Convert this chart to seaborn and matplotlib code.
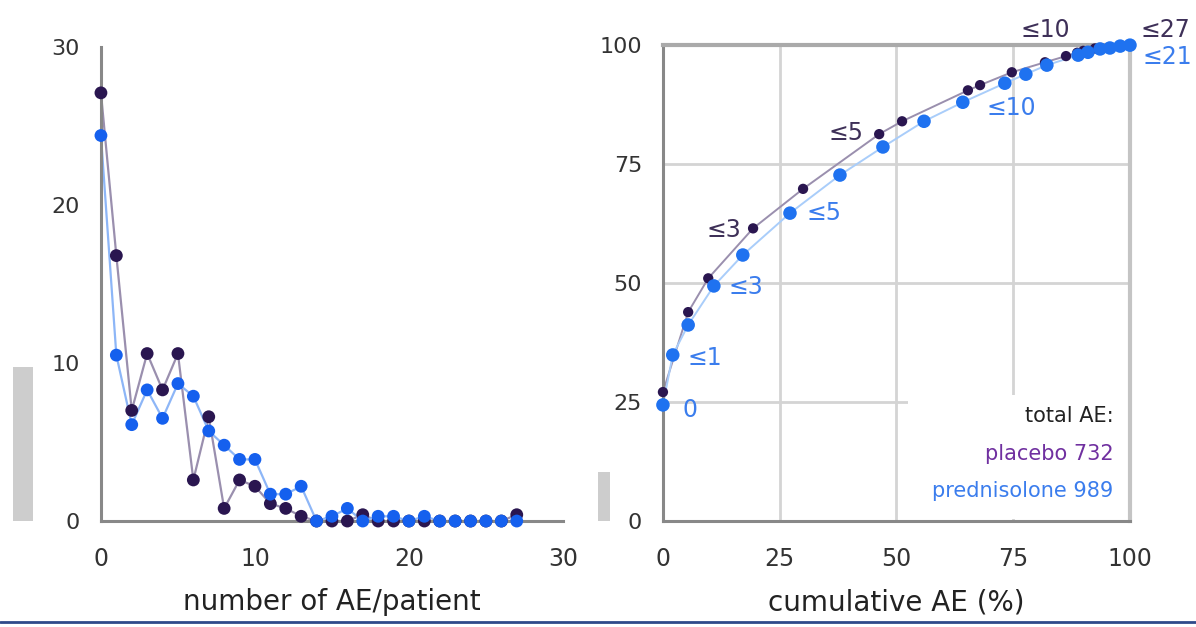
import matplotlib
matplotlib.use("Agg")
import matplotlib.pyplot as plt
import seaborn as sns
import pandas as pd
from matplotlib.patches import Rectangle
from matplotlib.lines import Line2D
from matplotlib.ticker import MultipleLocator

# ---------------- data ----------------
ae_count = list(range(28))
placebo_pct = [27.1, 16.8, 7.0, 10.6, 8.3, 10.6, 2.6, 6.6, 0.8, 2.6, 2.2, 1.1, 0.8, 0.3,
               0, 0, 0, 0.4, 0, 0, 0, 0, 0, 0, 0, 0, 0, 0.4]
pred_pct = [24.4, 10.5, 6.1, 8.3, 6.5, 8.7, 7.9, 5.7, 4.8, 3.9, 3.9, 1.7, 1.7, 2.2,
            0, 0.3, 0.8, 0, 0.3, 0.3, 0, 0.3, 0, 0, 0, 0, 0, 0]

placebo_cum_ae = [0, 5.4, 9.7, 19.3, 30.0, 46.3, 51.2, 65.3, 67.9, 74.7, 81.8, 86.3, 88.7, 90.0, 92.5, 100]
placebo_cum_pat = [27.1, 43.9, 51.0, 61.5, 69.8, 81.3, 84.0, 90.5, 91.6, 94.3, 96.4, 97.7, 98.4, 98.8, 99.3, 100]
pred_cum_ae = [0, 2.1, 5.4, 10.9, 17.1, 27.2, 37.9, 47.1, 55.9, 64.2, 73.2, 77.7, 82.2, 88.9, 91.0, 93.6, 95.7, 97.9, 100]
pred_cum_pat = [24.4, 34.9, 41.2, 49.4, 55.9, 64.7, 72.7, 78.6, 84.0, 88.0, 92.0, 93.9, 95.8, 97.9, 98.5, 99.2, 99.4, 99.8, 100]

placebo_labels = ["≤3", "≤5", "≤10", "≤27"]
placebo_label_x = [13.1, 39.2, 81.8, 107.5]
placebo_label_y = [61.1, 81.5, 103.2, 103.2]
pred_labels = ["0", "≤1", "≤3", "≤5", "≤10", "≤21"]
pred_label_x = [5.8, 9.0, 17.8, 34.5, 74.5, 108.0]
pred_label_y = [23.3, 34.2, 49.2, 64.7, 86.8, 97.5]

total_title = "total AE:"
total_lines = ["placebo 732", "prednisolone 989"]

xlabel_left = "number of AE/patient"
xlabel_right = "cumulative AE (%)"

# ---------------- style ----------------
sns.set_theme(style="white")
plt.rcParams['font.family'] = ['DejaVu Sans']

C_PLA = "#2a1650"
C_PLA_LINE = "#9a8fae"
C_PRE = "#1560ee"
C_PRE_LINE = "#8db6f7"
C_PRE_MARK_R = "#1f72f0"
C_PLA_TXT = "#3e3058"
C_PRE_TXT = "#3b7ded"
SPINE = "#888888"

fig = plt.figure(figsize=(11.96, 6.27), dpi=100)

# ---------------- left panel ----------------
ax1 = fig.add_axes([0.0844, 0.169, 0.3863, 0.756])
df_l = pd.DataFrame({"n": ae_count, "placebo": placebo_pct, "pred": pred_pct})
sns.lineplot(data=df_l, x="n", y="placebo", ax=ax1, color=C_PLA_LINE, lw=1.6, sort=False, zorder=2)
sns.lineplot(data=df_l, x="n", y="pred", ax=ax1, color=C_PRE_LINE, lw=1.6, sort=False, zorder=2)
sns.scatterplot(data=df_l, x="n", y="placebo", ax=ax1, color=C_PLA, s=85, edgecolor="none",
                zorder=3, clip_on=False)
sns.scatterplot(data=df_l, x="n", y="pred", ax=ax1, color=C_PRE, s=85, edgecolor="none",
                zorder=4, clip_on=False)
ax1.set_xlim(0, 30)
ax1.set_ylim(0, 30)
for s in ["top", "right"]:
    ax1.spines[s].set_visible(False)
for s in ["left", "bottom"]:
    ax1.spines[s].set_color(SPINE)
    ax1.spines[s].set_linewidth(2.2)
ax1.xaxis.set_major_locator(MultipleLocator(10))
ax1.xaxis.set_minor_locator(MultipleLocator(5))
ax1.yaxis.set_major_locator(MultipleLocator(10))
ax1.yaxis.set_minor_locator(MultipleLocator(5))
ax1.tick_params(axis="both", which="major", direction="out", length=9, width=1.6, color=SPINE,
                labelcolor="#333333")
ax1.tick_params(axis="both", which="minor", direction="out", length=5, width=1.4, color="#bbbbbb")
ax1.tick_params(axis="x", which="major", pad=10, labelsize=17)
ax1.tick_params(axis="y", which="major", pad=6, labelsize=16)
ax1.set_xlabel(xlabel_left, fontsize=20, color="#222222", labelpad=12)
ax1.set_ylabel("")

# ---------------- right panel ----------------
ax2 = fig.add_axes([0.5543, 0.169, 0.3905, 0.759])
ax2.set_axisbelow(True)
df_p = pd.DataFrame({"ae": placebo_cum_ae, "pat": placebo_cum_pat})
df_r = pd.DataFrame({"ae": pred_cum_ae, "pat": pred_cum_pat})
sns.lineplot(data=df_p, x="ae", y="pat", ax=ax2, color=C_PLA_LINE, lw=1.4, sort=False, zorder=2)
sns.lineplot(data=df_r, x="ae", y="pat", ax=ax2, color="#a9cdfa", lw=1.4, sort=False, zorder=2)
sns.scatterplot(data=df_p, x="ae", y="pat", ax=ax2, color=C_PLA, s=55, edgecolor="none",
                zorder=3, clip_on=False)
sns.scatterplot(data=df_r, x="ae", y="pat", ax=ax2, color=C_PRE_MARK_R, s=95, edgecolor="none",
                zorder=4, clip_on=False)
ax2.set_xlim(0, 100)
ax2.set_ylim(0, 100)
ax2.xaxis.set_major_locator(MultipleLocator(25))
ax2.xaxis.set_minor_locator(MultipleLocator(5))
ax2.yaxis.set_major_locator(MultipleLocator(25))
ax2.yaxis.set_minor_locator(MultipleLocator(5))
ax2.grid(True, which="major", color="#d4d4d4", lw=2.0)
ax2.add_patch(Rectangle((52.5, 0.5), 47.0, 26.0, facecolor="white", edgecolor="none", zorder=1))
for s in ["left", "bottom"]:
    ax2.spines[s].set_color(SPINE)
    ax2.spines[s].set_linewidth(2.2)
ax2.spines["top"].set_color("#aaaaaa")
ax2.spines["top"].set_linewidth(3)
ax2.spines["right"].set_color("#c4c4c4")
ax2.spines["right"].set_linewidth(3)
ax2.tick_params(axis="both", which="major", direction="out", length=9, width=1.6, color=SPINE,
                labelcolor="#333333")
ax2.tick_params(axis="both", which="minor", direction="out", length=5, width=1.4, color="#999999")
ax2.tick_params(axis="x", which="major", pad=10, labelsize=17)
ax2.tick_params(axis="y", which="major", pad=6, labelsize=16)
ax2.tick_params(top=False, right=False, which="both")
ax2.set_xlabel(xlabel_right, fontsize=20, color="#222222", labelpad=12)
ax2.set_ylabel("")

for t, x, y in zip(placebo_labels, placebo_label_x, placebo_label_y):
    ax2.text(x, y, t, color=C_PLA_TXT, fontsize=17, ha="center", va="center", zorder=6)
for t, x, y in zip(pred_labels, pred_label_x, pred_label_y):
    ax2.text(x, y, t, color=C_PRE_TXT, fontsize=17, ha="center", va="center", zorder=6)

ax2.text(96.5, 22.0, total_title, color="#222222", fontsize=15, ha="right", va="center", zorder=6)
ax2.text(96.5, 14.0, total_lines[0], color="#7030a0", fontsize=15, ha="right", va="center", zorder=6)
ax2.text(96.5, 6.3, total_lines[1], color=C_PRE_TXT, fontsize=15, ha="right", va="center", zorder=6)

# ---------------- decorations ----------------
fig.patches.append(Rectangle((13 / 1196, 0.169), 20 / 1196, 154 / 627, transform=fig.transFigure,
                             facecolor="#cdcdcd", edgecolor="none"))
fig.patches.append(Rectangle((598 / 1196, 0.169), 12 / 1196, 49 / 627, transform=fig.transFigure,
                             facecolor="#cdcdcd", edgecolor="none"))
fig.lines.append(Line2D([0, 1], [0.008, 0.008], transform=fig.transFigure, color="#2f4a8a", lw=2))

fig.savefig("out.png", dpi=100)
